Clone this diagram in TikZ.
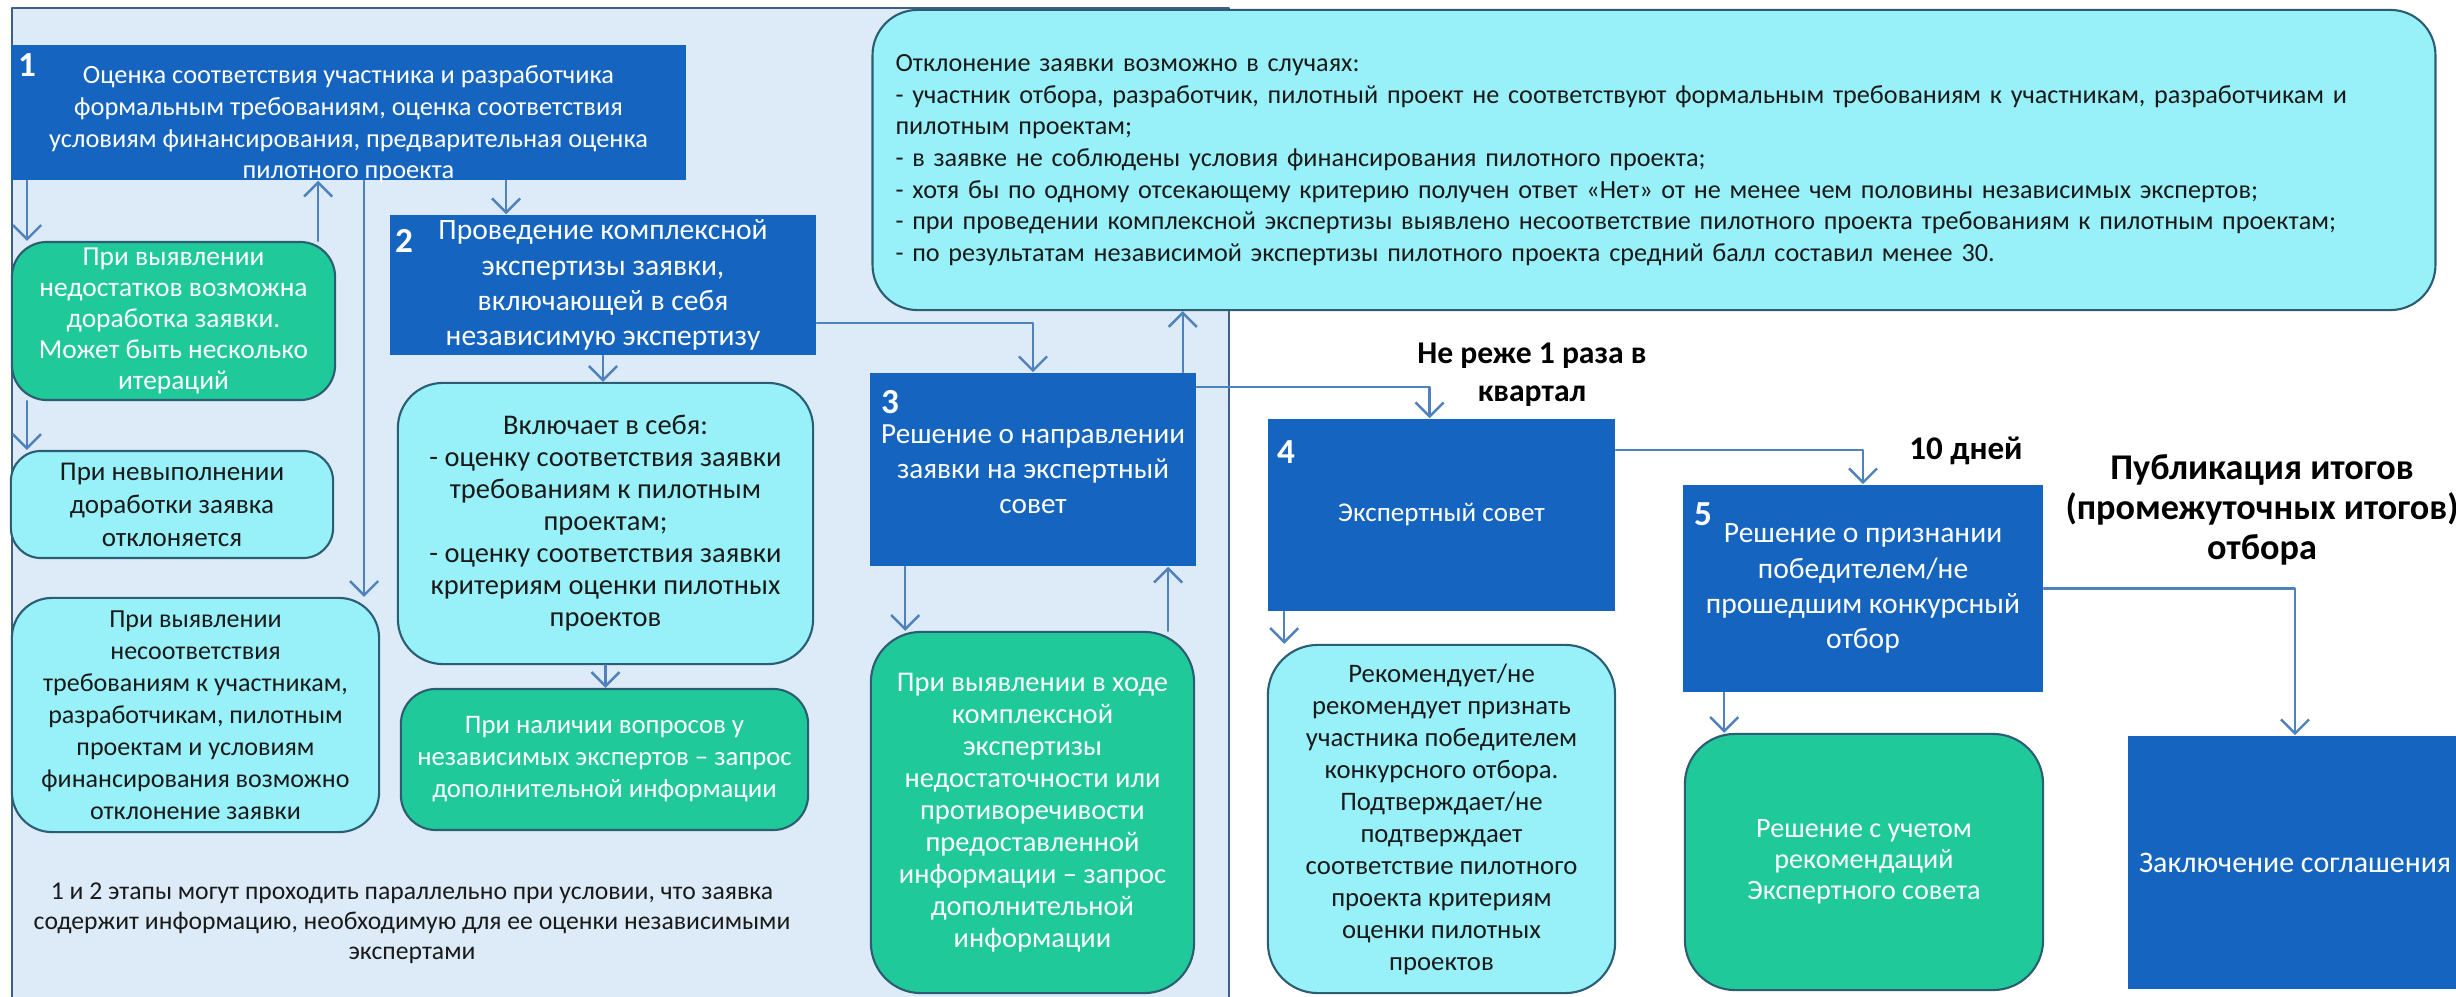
\documentclass[tikz,border=0pt]{standalone}
\usepackage{fontspec}
\setmainfont{Carlito}
\usetikzlibrary{calc,arrows.meta}

\definecolor{panelbg}{HTML}{DCEBF7}
\definecolor{panelline}{HTML}{3F5F86}
\definecolor{stepblue}{HTML}{1565C0}
\definecolor{notegreen}{HTML}{1FC99A}
\definecolor{notecyan}{HTML}{98F1F8}
\definecolor{noteline}{HTML}{2B5D73}
\definecolor{linkblue}{HTML}{4F81BD}
\definecolor{darktext}{HTML}{1A1A1A}

\newcommand{\fsz}[2]{\fontsize{#1pt}{#2pt}\selectfont}

\tikzset{
  stepbox/.style={fill=stepblue, text=white, align=center, inner sep=0pt},
  greenbox/.style={draw=noteline, line width=0.6pt, fill=notegreen, rounded corners=0.35cm,
    text=white, align=center, inner sep=0pt},
  cyanbox/.style={draw=noteline, line width=0.6pt, fill=notecyan, rounded corners=0.4cm,
    text=darktext, align=center, inner sep=0pt},
  stepnum/.style={text=white, font=\bfseries\fsz{10}{12}, inner sep=0pt},
  headlabel/.style={text=black, align=center, inner sep=0pt},
  arr/.style={draw=linkblue, line width=0.7pt, -{Straight Barb[length=4pt,width=8pt]}},
}

\begin{document}
\begin{tikzpicture}[line cap=round,line join=round,x=0.01cm,y=-0.01cm]
\useasboundingbox (0,0) rectangle (2456,997);
% panel of stages 1-3
\fill[panelbg] (12,8) rectangle (1229,997);
\draw[panelline, line width=0.75pt] (12,997) -- (12,8) -- (1229,8) -- (1229,997);

% stage 1
\node[stepbox, minimum width=6.75cm, minimum height=1.35cm] (s1) at (348.5,112.5) {};
\node[text=white, align=center, inner sep=0pt, font=\fsz{7.5}{9}] (s1text) at (348.5,124.5)
  {Оценка соответствия участника и разработчика\\формальным требованиям, оценка соответствия\\условиям финансирования, предварительная оценка\\пилотного проекта};
\node[stepnum] (n1) at (27,65) {1};
\node[greenbox, minimum width=3.23cm, minimum height=1.58cm, font=\fsz{7.8}{8.8}] (g1) at (173.5,321)
  {При выявлении\\недостатков возможна\\доработка заявки.\\Может быть несколько\\итераций};
\node[cyanbox, minimum width=3.22cm, minimum height=1.07cm, rounded corners=0.3cm, font=\fsz{7.7}{9.4}] (r1) at (172,504.5)
  {При невыполнении\\доработки заявка\\отклоняется};
\node[cyanbox, minimum width=3.67cm, minimum height=2.34cm, font=\fsz{7.4}{9.1}] (r2) at (195.5,715)
  {При выявлении\\несоответствия\\требованиям к участникам,\\разработчикам, пилотным\\проектам и условиям\\финансирования возможно\\отклонение заявки};

% stage 2
\node[stepbox, minimum width=4.26cm, minimum height=1.40cm, font=\fsz{8.4}{10}] (s2) at (603,285)
  {Проведение комплексной\\экспертизы заявки,\\включающей в себя\\независимую экспертизу};
\node[stepnum] (n2) at (404,241) {2};
\node[cyanbox, minimum width=4.15cm, minimum height=2.81cm, rounded corners=0.45cm, font=\fsz{8.1}{9.1}] (inc) at (605.5,523.5)
  {Включает в себя:\\- оценку соответствия заявки\\требованиям к пилотным\\проектам;\\- оценку соответствия заявки\\критериям оценки пилотных\\проектов};
\node[greenbox, minimum width=4.07cm, minimum height=1.41cm, font=\fsz{7.6}{9.1}] (g2) at (604.5,759.5)
  {При наличии вопросов у\\независимых экспертов – запрос\\дополнительной информации};
\node[headlabel, text=darktext, font=\fsz{7.3}{8.5}] (note) at (412,923.5)
  {1 и 2 этапы могут проходить параллельно при условии, что заявка\\содержит информацию, необходимую для ее оценки независимыми\\экспертами};

% reasons for rejection
\node[cyanbox, minimum width=15.62cm, minimum height=3cm, rounded corners=0.45cm, align=left,
  text width=15.16cm, inner xsep=0.23cm, font=\fsz{7.45}{9}] (big) at (1654,160)
  {Отклонение заявки возможно в случаях:\\
   - участник отбора, разработчик, пилотный проект не соответствуют формальным требованиям к участникам, разработчикам и\\
   пилотным проектам;\\
   - в заявке не соблюдены условия финансирования пилотного проекта;\\
   - хотя бы по одному отсекающему критерию получен ответ «Нет» от не менее чем половины независимых экспертов;\\
   - при проведении комплексной экспертизы выявлено несоответствие пилотного проекта требованиям к пилотным проектам;\\
   - по результатам независимой экспертизы пилотного проекта средний балл составил менее 30.};

% stage 3
\node[stepbox, minimum width=3.26cm, minimum height=1.93cm, font=\fsz{8.3}{10}] (s3) at (1033,469.5)
  {Решение о направлении\\заявки на экспертный\\совет};
\node[stepnum] (n3) at (890,402) {3};
\node[greenbox, minimum width=3.23cm, minimum height=3.61cm, rounded corners=0.5cm, font=\fsz{8.1}{9.1}] (g3) at (1032.5,812.5)
  {При выявлении в ходе\\комплексной\\экспертизы\\недостаточности или\\противоречивости\\предоставленной\\информации – запрос\\дополнительной\\информации};

% stage 4
\node[stepbox, minimum width=3.47cm, minimum height=1.92cm, font=\fsz{7.7}{10}] (s4) at (1441.5,515)
  {Экспертный совет};
\node[stepnum] (n4) at (1286,452) {4};
\node[cyanbox, minimum width=3.47cm, minimum height=3.48cm, rounded corners=0.5cm, font=\fsz{7.6}{9.1}] (rec) at (1441.5,819)
  {Рекомендует/не\\рекомендует признать\\участника победителем\\конкурсного отбора.\\Подтверждает/не\\подтверждает\\соответствие пилотного\\проекта критериям\\оценки пилотных\\проектов};
\node[headlabel, font=\bfseries\fsz{9}{10.8}] (often) at (1532,375) {Не реже 1 раза в\\квартал};

% stage 5
\node[stepbox, minimum width=3.60cm, minimum height=2.07cm, font=\fsz{8.4}{10}] (s5) at (1863,588.5)
  {Решение о признании\\победителем/не\\прошедшим конкурсный\\отбор};
\node[stepnum] (n5) at (1703,514) {5};
\node[greenbox, minimum width=3.58cm, minimum height=2.56cm, rounded corners=0.5cm, font=\fsz{8}{8.8}] (g4) at (1864,862)
  {Решение с учетом\\рекомендаций\\Экспертного совета};
\node[headlabel, font=\bfseries\fsz{9.4}{11}] (days) at (1966,451) {10 дней};
\node[headlabel, font=\bfseries\fsz{10.3}{11.4}] (pub) at (2262,510)
  {Публикация итогов\\(промежуточных итогов)\\отбора};
\node[stepbox, minimum width=3.34cm, minimum height=2.53cm, font=\fsz{8.5}{10}] (s6) at (2295,862.5)
  {Заключение соглашения};

% connectors
\draw[arr] ($(s1.south west)+(17,0)$) coordinate (a) -- (a |- g1.north);
\draw[arr] ($(g1.south west)+(16,0)$) coordinate (a) -- (a |- r1.north);
\draw[arr] ($(g1.north east)+(-18,0)$) coordinate (a) -- (a |- s1.south);
\draw[arr] ($(s1.south west)+(354,0)$) coordinate (a) -- (a |- r2.north);
\draw[arr] ($(s1.south west)+(496,0)$) coordinate (a) -- (a |- s2.north);
\draw[arr] ($(s2.south east)+(0,-33)$) -| (s3.north);
\draw[arr] (s2.south) -- (s2.south |- inc.north);
\draw[arr] (inc.south) -- (inc.south |- g2.north);
\draw[arr] ($(s3.north east)+(-14,0)$) coordinate (a) -- (a |- big.south);
\draw[arr] ($(s3.north east)+(0,15)$) -| ($(s4.north)+(-12,0)$);
\draw[arr] ($(s3.south west)+(36,0)$) coordinate (a) -- (a |- g3.north);
\draw[arr] ($(g3.north east)+(-27,0)$) coordinate (a) -- (a |- s3.south);
\draw[arr] ($(s4.south west)+(17,0)$) coordinate (a) -- (a |- rec.north);
\draw[arr] ($(s4.north east)+(0,32)$) -| (s5.north);
\draw[arr] ($(s5.south west)+(42,0)$) coordinate (a) -- (a |- g4.north);
\draw[arr] (s5.east) -| (s6.north);
\end{tikzpicture}
\end{document}
